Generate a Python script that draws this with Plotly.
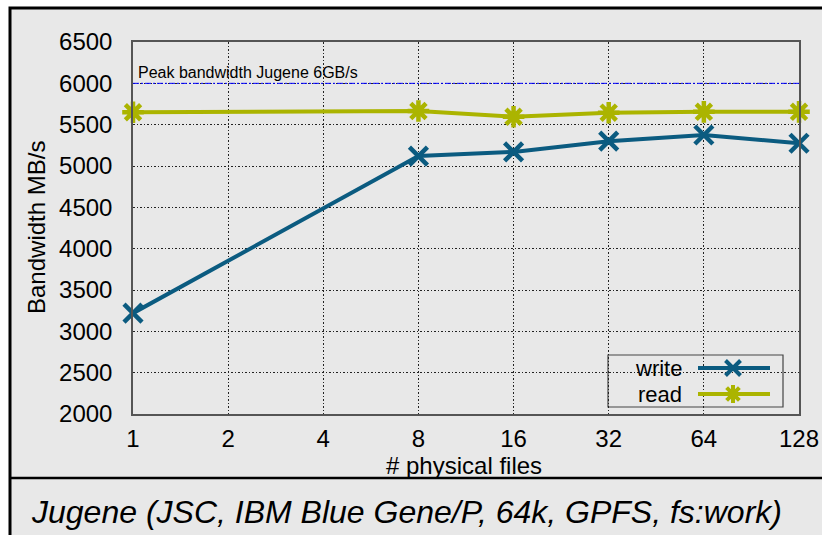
import math
import plotly.graph_objects as go

# ---- data ----
files = [1, 8, 16, 32, 64, 128]
write_bw = [3220, 5120, 5170, 5300, 5375, 5275]
read_bw = [5650, 5665, 5595, 5645, 5655, 5655]
tick_vals = [1, 2, 4, 8, 16, 32, 64, 128]
tick_text = ["1", "2", "4", "8", "16", "32", "64", "128"]
y_ticks = [2000, 2500, 3000, 3500, 4000, 4500, 5000, 5500, 6000, 6500]
peak_bw = 6000

WRITE_C = "#0b5b80"
READ_C = "#abb400"
FONT = "Liberation Sans, Arial, sans-serif"

W, H = 822, 535
L, R, T, B = 133, 23, 42, 121
PW, PH = W - L - R, H - T - B


def px(x):  # pixel -> paper x
    return (x - L) / PW


def py(y):  # pixel -> paper y
    return (H - B - y) / PH


fig = go.Figure()

fig.add_trace(go.Scatter(
    x=files, y=write_bw, mode="lines+markers", name="write",
    line=dict(color=WRITE_C, width=4),
    marker=dict(symbol="x-thin", size=18, color=WRITE_C,
                line=dict(color=WRITE_C, width=4.5)),
    cliponaxis=False, showlegend=False))
fig.add_trace(go.Scatter(
    x=files, y=read_bw, mode="lines+markers", name="read",
    line=dict(color=READ_C, width=4),
    marker=dict(symbol="asterisk", size=18, color=READ_C,
                line=dict(color=READ_C, width=4.5)),
    cliponaxis=False, showlegend=False))

# peak line
fig.add_trace(go.Scatter(
    x=[tick_vals[0], tick_vals[-1]], y=[peak_bw, peak_bw], mode="lines",
    line=dict(color="#0000ff", width=1, dash="6px,2px,2px,2px"),
    showlegend=False, hoverinfo="skip"))

# ---- custom legend (text left, key right) on overlay axes ----
leg_rows = [("write", WRITE_C, "x-thin", py(368)), ("read", READ_C, "asterisk", py(394))]
for name, c, sym, yy in leg_rows:
    fig.add_trace(go.Scatter(
        x=[px(698), px(770)], y=[yy, yy], mode="lines",
        line=dict(color=c, width=4), xaxis="x2", yaxis="y2",
        showlegend=False, hoverinfo="skip", cliponaxis=False))
    fig.add_trace(go.Scatter(
        x=[px(733)], y=[yy], mode="markers",
        marker=dict(symbol=sym, size=15, color=c, line=dict(color=c, width=4)),
        xaxis="x2", yaxis="y2", showlegend=False, hoverinfo="skip", cliponaxis=False))

shapes = [
    # grey panel with black frame (top/left visible)
    dict(type="rect", xref="paper", yref="paper", layer="below",
         x0=px(10), x1=px(840), y0=py(560), y1=py(8),
         fillcolor="#e8e8e8", line=dict(color="black", width=3)),
    # separator line above caption
    dict(type="line", xref="paper", yref="paper",
         x0=px(10), x1=px(840), y0=py(478), y1=py(478),
         line=dict(color="black", width=2.5)),
    # legend box
    dict(type="rect", xref="paper", yref="paper",
         x0=px(608), x1=px(783), y0=py(407), y1=py(355),
         fillcolor="#e8e8e8", line=dict(color="#444", width=1.2), layer="between"),
]

annotations = [
    dict(text="Peak bandwidth Jugene 6GB/s", xref="paper", yref="paper",
         x=px(136), y=py(72), xanchor="left", yanchor="middle", showarrow=False,
         font=dict(family=FONT, size=16, color="black")),
    dict(text="Bandwidth MB/s", xref="paper", yref="paper", textangle=-90,
         x=px(36), y=0.5, xanchor="center", yanchor="middle", showarrow=False,
         font=dict(family=FONT, size=24, color="black")),
    dict(text="# physical files", xref="paper", yref="paper",
         x=px(464), y=py(465), xanchor="center", yanchor="middle", showarrow=False,
         font=dict(family=FONT, size=24, color="black")),
    dict(text="<i>Jugene (JSC, IBM Blue Gene/P, 64k, GPFS, fs:work)</i>",
         xref="paper", yref="paper", x=px(29), y=py(512), xanchor="left",
         yanchor="middle", showarrow=False,
         font=dict(family=FONT, size=32, color="black")),
]
for name, c, sym, yy in leg_rows:
    annotations.append(dict(text=name, xref="paper", yref="paper", x=px(684), y=yy,
                            xanchor="right", yanchor="middle", showarrow=False,
                            font=dict(family=FONT, size=22, color="black")))

grid_common = dict(showgrid=True, gridcolor="#222", gridwidth=1,
                   griddash="2px,2px,1px,2px", showline=True, linecolor="#555",
                   linewidth=1.5, mirror=True, zeroline=False, ticks="",
                   tickfont=dict(family=FONT, size=24, color="black"))

fig.update_layout(
    width=W, height=H,
    margin=dict(l=L, r=R, t=T, b=B, autoexpand=False),
    paper_bgcolor="white", plot_bgcolor="#e8e8e8",
    xaxis=dict(type="log", range=[math.log10(tick_vals[0]), math.log10(tick_vals[-1])],
               tickvals=tick_vals, ticktext=tick_text, ticklabelstandoff=2,
               **grid_common),
    yaxis=dict(range=[y_ticks[0], y_ticks[-1]], tickvals=y_ticks,
               ticklabelstandoff=14, **grid_common),
    xaxis2=dict(overlaying="x", range=[0, 1], visible=False, domain=[0, 1]),
    yaxis2=dict(overlaying="y", range=[0, 1], visible=False, domain=[0, 1]),
    shapes=shapes, annotations=annotations, showlegend=False,
)

fig.write_html("out.html")
